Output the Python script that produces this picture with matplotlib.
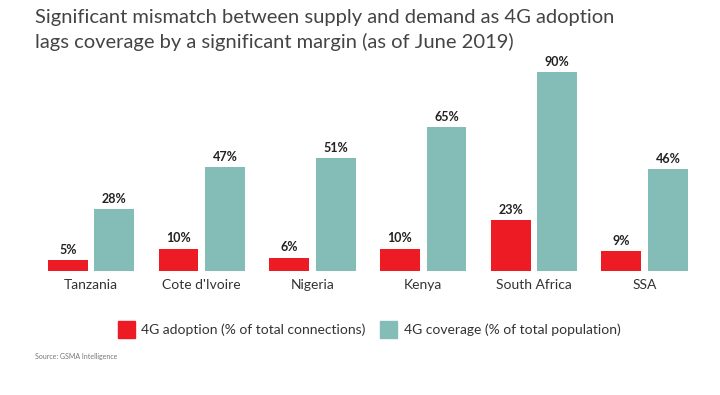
import matplotlib
matplotlib.use("Agg")
import matplotlib.pyplot as plt
import numpy as np

# === data ===
countries = ["Tanzania", "Cote d'Ivoire", "Nigeria", "Kenya", "South Africa", "SSA"]
adoption = [5, 10, 6, 10, 23, 9]
coverage = [28, 47, 51, 65, 90, 46]

RED = "#ED1C24"
TEAL = "#84BCB8"
TXT = "#333333"

plt.rcParams["font.family"] = ["Lato", "DejaVu Sans"]

fig = plt.figure(figsize=(7.2, 3.95), dpi=100)
ax = fig.add_axes([35.7 / 720, 124 / 395, (700 - 35.7) / 720, 221 / 395])

x = np.arange(len(countries))
w = 0.36
off = 0.21
b1 = ax.bar(x - off, adoption, w, color=RED)
b2 = ax.bar(x + off, coverage, w, color=TEAL)

for bars, vals in ((b1, adoption), (b2, coverage)):
    for b, v in zip(bars, vals):
        ax.text(b.get_x() + b.get_width() / 2, v + 2, f"{v}%", ha="center", va="bottom",
                fontsize=9, fontweight="bold", color="#222222")

ax.set_xlim(-0.5, 5.5)
ax.set_ylim(0, 100)
ax.set_xticks(x)
ax.set_xticklabels(countries, fontsize=10, color=TXT)
ax.tick_params(axis="x", length=0, pad=6)
ax.set_yticks([])
for s in ax.spines.values():
    s.set_visible(False)

fig.text(35 / 720, 1 - 18 / 395, "Significant mismatch between supply and demand as 4G adoption",
         fontsize=14.5, color="#444444", va="center")
fig.text(35 / 720, 1 - 42 / 395, "lags coverage by a significant margin (as of June 2019)",
         fontsize=14.5, color="#444444", va="center")

# legend
fig.patches.append(plt.Rectangle((118 / 720, 1 - 338 / 395), 17 / 720, 17 / 395,
                                 transform=fig.transFigure, color=RED))
fig.text(141 / 720, 1 - 330 / 395, "4G adoption (% of total connections)", fontsize=10,
         color=TXT, va="center")
fig.patches.append(plt.Rectangle((380 / 720, 1 - 338 / 395), 17 / 720, 17 / 395,
                                 transform=fig.transFigure, color=TEAL))
fig.text(404 / 720, 1 - 330 / 395, "4G coverage (% of total population)", fontsize=10,
         color=TXT, va="center")

fig.text(35 / 720, 1 - 357 / 395, "Source: GSMA Intelligence", fontsize=5, color="#777777",
         va="center")

fig.savefig("out.png", dpi=100)
